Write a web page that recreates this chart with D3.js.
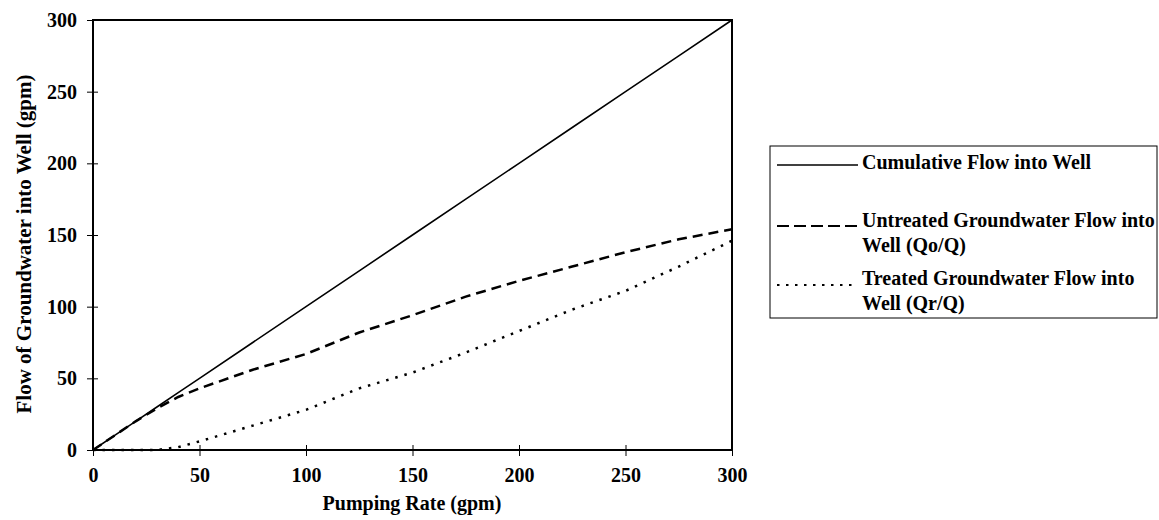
<!DOCTYPE html>
<html>
<head>
<meta charset="utf-8">
<script src="https://cdn.jsdelivr.net/npm/d3@7"></script>
<style>
  html, body { margin: 0; padding: 0; background: #fff; }
  svg text { font-family: "Liberation Serif", "Times New Roman", serif; font-weight: bold; fill: #000; }
</style>
</head>
<body>
<svg id="chart" width="1159" height="520"></svg>
<script>
// Data
const pumpingRate = [0, 10, 20, 30, 40, 50, 75, 100, 125, 150, 175, 200, 225, 250, 275, 300];
const cumulativeFlow = [0, 10, 20, 30, 40, 50, 75, 100, 125, 150, 175, 200, 225, 250, 275, 300];
const untreatedFlow = [0, 10, 20, 29, 37, 43, 56, 67, 82, 94, 107, 118, 128, 138, 147, 154];
const treatedFlow = [0, 0, 0, 0, 2, 6, 17, 28, 43, 54, 68, 83, 98, 111, 128, 146];
const xTicks = [0, 50, 100, 150, 200, 250, 300];
const yTicks = [0, 50, 100, 150, 200, 250, 300];
const seriesNames = ["Cumulative Flow into Well", "Untreated Groundwater Flow into|Well (Qo/Q)", "Treated Groundwater Flow into|Well (Qr/Q)"];

const svg = d3.select("#chart");
const L = 93, R = 732, T = 20, B = 450;
const x = d3.scaleLinear().domain([0, 300]).range([L, R]);
const y = d3.scaleLinear().domain([0, 300]).range([B, T]);

// plot frame
svg.append("rect").attr("x", L).attr("y", T).attr("width", R - L).attr("height", B - T)
  .attr("fill", "none").attr("stroke", "#000").attr("stroke-width", 2);

// x axis
const xAxis = svg.append("g").attr("transform", `translate(0,${B})`)
  .call(d3.axisBottom(x).tickValues(xTicks).tickSize(6).tickPadding(12));
xAxis.select(".domain").remove();
xAxis.selectAll(".tick line").attr("y1", -5).attr("stroke-width", 1);
xAxis.selectAll(".tick text").attr("font-size", 20).attr("font-family", "Liberation Serif").attr("font-weight", "bold");

// y axis
const yAxis = svg.append("g").attr("transform", `translate(${L},0)`)
  .call(d3.axisLeft(y).tickValues(yTicks).tickSize(6).tickPadding(10));
yAxis.select(".domain").remove();
yAxis.selectAll(".tick line").attr("x1", 5).attr("x2", -6).attr("stroke-width", 1);
yAxis.selectAll(".tick text").attr("font-size", 20).attr("font-family", "Liberation Serif").attr("font-weight", "bold");

// axis titles
svg.append("text").attr("x", 412).attr("y", 510).attr("text-anchor", "middle")
  .attr("font-size", 20).text("Pumping Rate (gpm)");
svg.append("text").attr("transform", `translate(31,${(T + B) / 2 + 9}) rotate(-90)`)
  .attr("text-anchor", "middle").attr("font-size", 21).text("Flow of Groundwater into Well (gpm)");

// lines
const styles = [
  { w: 1.6, dash: null, lw: 1.5, ldash: null },
  { w: 2.5, dash: "10,6", lw: 2, ldash: "12,5" },
  { w: 2.5, dash: "2.5,7", lw: 2.2, ldash: "2.5,6.5" }
];
const seriesVals = [cumulativeFlow, untreatedFlow, treatedFlow];
const line = d3.line().x(d => x(d[0])).y(d => y(d[1]));
seriesVals.forEach((vals, i) => {
  svg.append("path").datum(pumpingRate.map((p, j) => [p, vals[j]]))
    .attr("d", line).attr("fill", "none").attr("stroke", "#000")
    .attr("stroke-width", styles[i].w)
    .attr("stroke-dasharray", styles[i].dash);
});

// legend
const lg = svg.append("g");
lg.append("rect").attr("x", 770).attr("y", 146).attr("width", 387).attr("height", 172)
  .attr("fill", "#fff").attr("stroke", "#000").attr("stroke-width", 1);
const entryY = [162, 220, 278];
const lineOff = [3, 6, 7];
seriesNames.forEach((name, i) => {
  lg.append("line").attr("x1", 777).attr("x2", 858)
    .attr("y1", entryY[i] + lineOff[i]).attr("y2", entryY[i] + lineOff[i])
    .attr("stroke", "#000").attr("stroke-width", styles[i].lw)
    .attr("stroke-dasharray", styles[i].ldash);
  name.split("|").forEach((ln, k) => {
    lg.append("text").attr("x", 862).attr("y", entryY[i] + 25 * k)
      .attr("dy", "0.35em").attr("font-size", 20).text(ln);
  });
});
</script>
</body>
</html>
